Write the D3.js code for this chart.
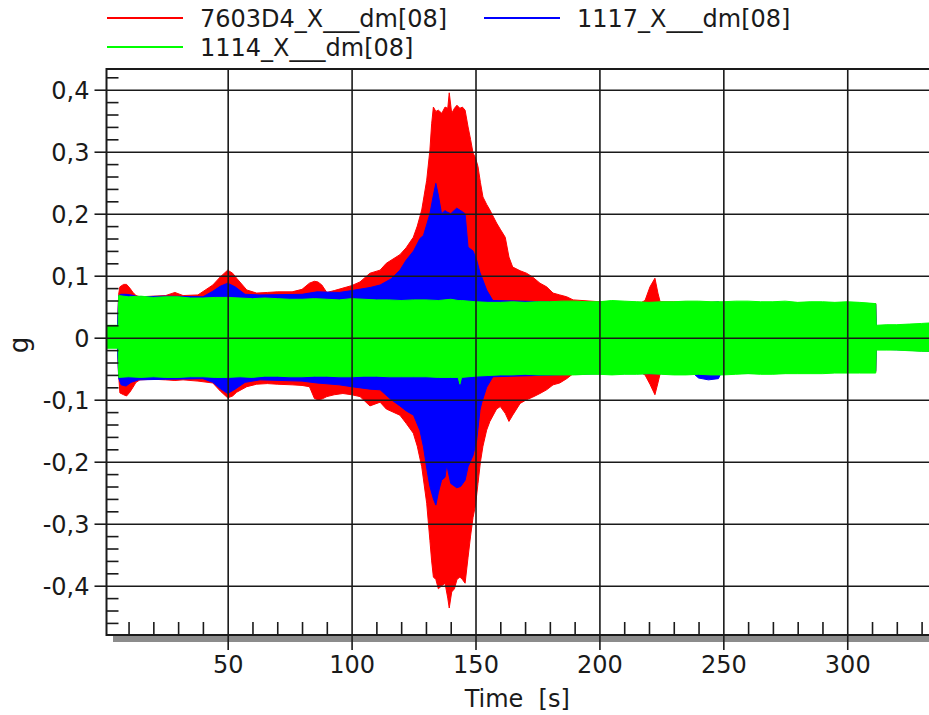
<!DOCTYPE html>
<html><head><meta charset="utf-8">
<script src="https://cdn.jsdelivr.net/npm/d3@7/dist/d3.min.js"></script>
<style>
body{margin:0;background:#fff}
svg{display:block}
text{font-family:"DejaVu Sans",Verdana,sans-serif;fill:#1a1a1a}
</style>
</head><body>
<svg id="c" width="929" height="715"></svg>
<script>
const seriesNames = ["7603D4_X___dm[08]", "1117_X___dm[08]", "1114_X___dm[08]"];
const seriesColors = ["#ff0000", "#0000ff", "#00ff00"];

const redT  = [1,5.5,6,6.5,8,9.2,10.5,11.8,13,14.6,20,25,28.7,32,38,44,47,50,52,53.6,57.7,61.7,66,70,76,80,83,85,86.4,88,90,93,96.5,100,103.4,107.4,111.5,114,119.5,122,124.9,126.5,128.3,130.3,131.6,132.3,133,134,135,136.4,137.7,138.8,139.4,140.4,141.5,142.5,143.7,144.7,145.8,147,148,149,150,151,152,153,154.5,155.8,158.5,160,162,163.5,165,168,170.6,173,176,178.7,181.3,184,186.8,189.4,200,217,218.4,220.4,222.4,223.6,224.5,250,311.5,311.7,334];
const redHi = [0.015,0.015,0.07,0.082,0.086,0.086,0.08,0.073,0.068,0.066,0.067,0.068,0.073,0.068,0.069,0.085,0.098,0.109,0.104,0.096,0.077,0.072,0.073,0.074,0.074,0.078,0.088,0.091,0.09,0.085,0.073,0.076,0.08,0.084,0.09,0.104,0.109,0.12,0.134,0.145,0.162,0.18,0.206,0.254,0.303,0.345,0.372,0.365,0.367,0.362,0.372,0.37,0.395,0.362,0.37,0.375,0.37,0.372,0.367,0.34,0.32,0.298,0.29,0.276,0.25,0.227,0.215,0.206,0.185,0.175,0.162,0.13,0.114,0.108,0.104,0.098,0.088,0.082,0.072,0.069,0.066,0.061,0.058,0.057,0.06,0.082,0.096,0.072,0.058,0.057,0.055,0.018,0.02];
const redLo = [-0.015,-0.015,-0.06,-0.089,-0.092,-0.094,-0.088,-0.08,-0.072,-0.068,-0.067,-0.068,-0.069,-0.068,-0.07,-0.073,-0.086,-0.097,-0.094,-0.088,-0.079,-0.075,-0.074,-0.075,-0.076,-0.077,-0.079,-0.098,-0.1,-0.099,-0.095,-0.092,-0.09,-0.092,-0.095,-0.11,-0.104,-0.115,-0.125,-0.138,-0.154,-0.175,-0.208,-0.267,-0.327,-0.36,-0.386,-0.39,-0.405,-0.4,-0.396,-0.42,-0.436,-0.41,-0.405,-0.39,-0.386,-0.39,-0.396,-0.354,-0.32,-0.29,-0.27,-0.235,-0.2,-0.175,-0.149,-0.135,-0.115,-0.111,-0.122,-0.135,-0.125,-0.106,-0.1,-0.096,-0.09,-0.084,-0.076,-0.073,-0.066,-0.058,-0.058,-0.057,-0.06,-0.075,-0.092,-0.073,-0.058,-0.058,-0.055,-0.018,-0.02];

const blueT  = [1,5.5,6,7,9,11,14,25,40,44,47,50,53,57,63,80,86,95,100,107.5,111.5,116,119.5,122,125,127.6,129,130.5,131.6,133,134,135,136.3,137.7,138.4,140,142.4,144,145.8,147,149,150.5,151.8,152.5,154.5,157,200,238,240,244,248,249,311.5,311.7,334];
const blueHi = [0.015,0.015,0.068,0.07,0.07,0.069,0.066,0.067,0.066,0.075,0.083,0.088,0.082,0.07,0.069,0.07,0.074,0.073,0.076,0.081,0.085,0.095,0.109,0.125,0.14,0.16,0.165,0.185,0.2,0.23,0.249,0.23,0.2,0.205,0.203,0.2,0.209,0.205,0.2,0.146,0.14,0.125,0.105,0.098,0.077,0.06,0.056,0.056,0.056,0.056,0.058,0.055,0.054,0.018,0.022];
const blueLo = [-0.015,-0.015,-0.065,-0.076,-0.078,-0.072,-0.068,-0.067,-0.066,-0.072,-0.082,-0.09,-0.083,-0.072,-0.068,-0.07,-0.073,-0.076,-0.079,-0.083,-0.084,-0.1,-0.11,-0.118,-0.125,-0.15,-0.176,-0.215,-0.24,-0.26,-0.27,-0.25,-0.23,-0.225,-0.205,-0.235,-0.242,-0.24,-0.23,-0.208,-0.19,-0.165,-0.117,-0.105,-0.08,-0.063,-0.058,-0.058,-0.065,-0.068,-0.066,-0.058,-0.054,-0.018,-0.022];

const greenT  = [1,5.8,6,10,15,20,25,30,35,40,45,50,55,60,65,70,75,80,85,90,95,100,105,110,115,120,125,130,135,140,143,143.7,144.4,150,155,160,165,170,175,180,185,190,195,200,205,210,215,220,225,230,235,240,245,250,255,260,265,270,275,280,285,290,295,300,305,311.5,311.7,316,320,325,330,334];
const greenHi = [0.02,0.02,0.068,0.066,0.067,0.065,0.066,0.066,0.064,0.064,0.065,0.065,0.064,0.063,0.064,0.063,0.062,0.062,0.063,0.062,0.061,0.063,0.062,0.061,0.061,0.06,0.061,0.061,0.06,0.062,0.06,0.06,0.06,0.058,0.057,0.057,0.058,0.057,0.058,0.058,0.059,0.059,0.058,0.058,0.06,0.059,0.058,0.057,0.058,0.058,0.059,0.059,0.058,0.058,0.059,0.059,0.058,0.058,0.059,0.057,0.058,0.058,0.057,0.058,0.057,0.055,0.02,0.021,0.021,0.022,0.023,0.024];
const greenLo = [-0.017,-0.017,-0.064,-0.063,-0.064,-0.063,-0.064,-0.064,-0.063,-0.063,-0.064,-0.064,-0.063,-0.064,-0.062,-0.062,-0.063,-0.063,-0.062,-0.062,-0.063,-0.063,-0.062,-0.062,-0.063,-0.063,-0.063,-0.063,-0.064,-0.064,-0.064,-0.075,-0.064,-0.062,-0.061,-0.06,-0.06,-0.059,-0.06,-0.06,-0.06,-0.06,-0.059,-0.059,-0.06,-0.059,-0.059,-0.058,-0.059,-0.06,-0.06,-0.059,-0.06,-0.06,-0.059,-0.058,-0.059,-0.059,-0.058,-0.058,-0.058,-0.058,-0.057,-0.057,-0.057,-0.057,-0.02,-0.02,-0.02,-0.021,-0.022,-0.022];

const yMajorTicks = [-0.4,-0.3,-0.2,-0.1,0,0.1,0.2,0.3,0.4];
const yMinorTicks = [-0.46,-0.44,-0.42,-0.38,-0.36,-0.34,-0.32,-0.28,-0.26,-0.24,-0.22,-0.18,-0.16,-0.14,-0.12,-0.08,-0.06,-0.04,-0.02,0.02,0.04,0.06,0.08,0.12,0.14,0.16,0.18,0.22,0.24,0.26,0.28,0.32,0.34,0.36,0.38,0.42];
const xMajorTicks = [50,100,150,200,250,300];
const xMinorTicks = [10,20,30,40,60,70,80,90,110,120,130,140,160,170,180,190,210,220,230,240,260,270,280,290,310,320,330];
const xTitle = "Time  [s]";
const yTitle = "g";

// ---- drawing ----
const svg = d3.select("#c");
const L = 106.5, T = 69, B = 635, R = 932;
const x = d3.scaleLinear().domain([1.1, 334.2]).range([L, R]);
const y = d3.scaleLinear().domain([-0.4795, 0.4334]).range([B, T]);

const fmtLoc = d3.formatLocale({decimal: ",", thousands: ".", grouping: [3], currency: ["", ""], minus: "-"});
const f1 = fmtLoc.format(".1f");
const fmtY = v => Math.abs(v) < 1e-9 ? "0" : f1(v);

svg.append("defs").append("clipPath").attr("id", "clip")
  .append("rect").attr("x", L).attr("y", T).attr("width", R - L).attr("height", B - T);

// shadow under bottom axis
svg.append("rect").attr("x", 113).attr("y", B + 1).attr("width", 929 - 113).attr("height", 6).attr("fill", "#8c8c8c");

// data areas
const plot = svg.append("g").attr("clip-path", "url(#clip)");
const sets = [[redT, redHi, redLo], [blueT, blueHi, blueLo], [greenT, greenHi, greenLo]];
sets.forEach((s, k) => {
  const [tt, hi, lo] = s;
  const pts = tt.map((t, i) => ({t, hi: hi[i], lo: lo[i]}));
  const area = d3.area().x(d => x(d.t)).y0(d => y(d.lo)).y1(d => y(d.hi)).curve(d3.curveLinear);
  plot.append("path").datum(pts).attr("d", area).attr("fill", seriesColors[k]).attr("stroke", seriesColors[k]).attr("stroke-width", 1);
});

// grid lines
const gridY = svg.append("g").attr("transform", `translate(${L},0)`)
  .call(d3.axisLeft(y).tickValues(yMajorTicks).tickSize(-(R - L)).tickFormat(""));
gridY.select(".domain").remove();
gridY.selectAll("line").attr("stroke", "#1a1a1a").attr("stroke-width", 1.6);

const gridX = svg.append("g").attr("transform", `translate(0,${B})`)
  .call(d3.axisBottom(x).tickValues(xMajorTicks).tickSize(-(B - T)).tickFormat(""));
gridX.select(".domain").remove();
gridX.selectAll("line").attr("stroke", "#1a1a1a").attr("stroke-width", 1.6);

// major ticks with labels
const yAx = svg.append("g").attr("transform", `translate(${L},0)`)
  .call(d3.axisLeft(y).tickValues(yMajorTicks).tickSize(12).tickPadding(5).tickFormat(fmtY));
yAx.select(".domain").remove();
yAx.selectAll("line").attr("stroke", "#1a1a1a").attr("stroke-width", 1.6);
yAx.selectAll("text").attr("font-size", 24).attr("font-family", "DejaVu Sans, Verdana, sans-serif")
  .attr("fill", "#1a1a1a").attr("dy", "0.38em");

const xAx = svg.append("g").attr("transform", `translate(0,${B})`)
  .call(d3.axisBottom(x).tickValues(xMajorTicks).tickSize(15).tickPadding(6).tickFormat(d3.format("d")));
xAx.select(".domain").remove();
xAx.selectAll("line").attr("stroke", "#1a1a1a").attr("stroke-width", 1.6);
xAx.selectAll("text").attr("font-size", 24).attr("font-family", "DejaVu Sans, Verdana, sans-serif")
  .attr("fill", "#1a1a1a");

// minor ticks (inside)
const yMin = svg.append("g").attr("transform", `translate(${L},0)`)
  .call(d3.axisLeft(y).tickValues(yMinorTicks).tickSize(-12).tickFormat(""));
yMin.select(".domain").remove();
yMin.selectAll("line").attr("stroke", "#1a1a1a").attr("stroke-width", 1.6);

const xMin = svg.append("g").attr("transform", `translate(0,${B})`)
  .call(d3.axisBottom(x).tickValues(xMinorTicks).tickSize(-13).tickFormat(""));
xMin.select(".domain").remove();
xMin.selectAll("line").attr("stroke", "#1a1a1a").attr("stroke-width", 1.6);

// frame
svg.append("path").attr("d", `M${R},${T}H${L}V${B}H${R}`).attr("fill", "none")
  .attr("stroke", "#1a1a1a").attr("stroke-width", 2);

// axis titles
svg.append("text").attr("x", (L + R) / 2 - 2).attr("y", 707).attr("text-anchor", "middle")
  .attr("font-size", 24).style("white-space", "pre").text(xTitle);
svg.append("text").attr("transform", "translate(28,345) rotate(-90)").attr("text-anchor", "middle")
  .attr("font-size", 26).text(yTitle);

// legend
const legPos = [[107, 18], [484, 18], [107, 47]];
seriesNames.forEach((n, i) => {
  const [lx, ly] = legPos[i];
  svg.append("line").attr("x1", lx).attr("x2", lx + 76).attr("y1", ly).attr("y2", ly)
    .attr("stroke", seriesColors[i]).attr("stroke-width", 2);
  svg.append("text").attr("x", lx + 93).attr("y", ly + 9).attr("font-size", 24).text(n);
});
</script>
</body></html>
